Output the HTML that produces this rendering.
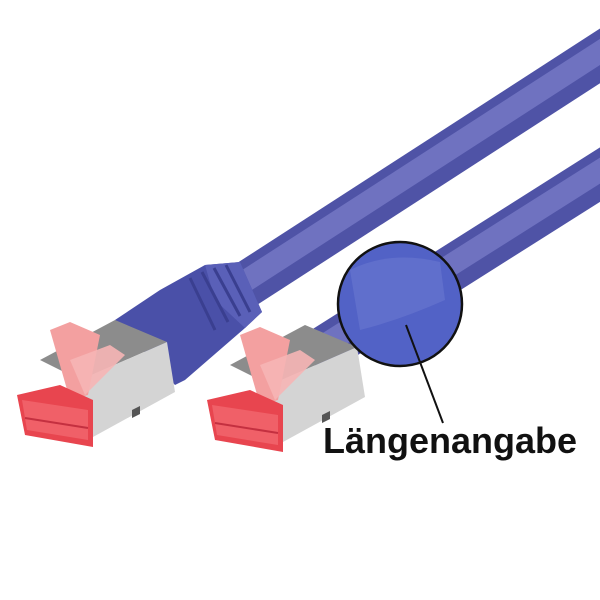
<!DOCTYPE html>
<html><head><meta charset="utf-8"><style>
html,body{margin:0;padding:0;background:#fff;}
svg{display:block}
</style></head><body>
<svg width="600" height="600" viewBox="0 0 600 600" xmlns="http://www.w3.org/2000/svg">
<defs>
<g id="conn">
  <polygon points="40,360 115,320 167,342 80,380" fill="#8c8c8c"/>
  <polygon points="80,380 167,342 175,392 93,437" fill="#d4d4d4"/>
  <polygon points="132,410 140,406 140,414 132,418" fill="#555"/>
  <polygon points="50,330 70,322 100,335 88,395 70,400" fill="#f3a0a0"/>
  <polygon points="70,360 110,345 125,355 85,395" fill="#f6b5b5" opacity="0.9"/>
  <polygon points="17,395 60,385 93,400 93,447 25,435" fill="#e8454f"/>
  <polygon points="22,400 88,410 88,440 27,430" fill="#f06068"/>
  <line x1="25" y1="418" x2="88" y2="428" stroke="#c43040" stroke-width="2"/>
</g>
</defs>
<rect width="600" height="600" fill="#fff"/>
<!-- upper cable -->
<line x1="230" y1="295" x2="620" y2="43" stroke="#4f53a6" stroke-width="46"/>
<line x1="230" y1="291" x2="620" y2="39" stroke="#6f72c0" stroke-width="22"/>
<!-- lower cable -->
<line x1="310" y1="358" x2="620" y2="162" stroke="#4f53a6" stroke-width="46"/>
<line x1="310" y1="354" x2="620" y2="158" stroke="#6f72c0" stroke-width="22"/>
<!-- boot -->
<polygon points="115,320 160,290 205,265 240,262 262,312 245,328 185,380 175,385" fill="#4a50a8"/>
<polygon points="205,265 240,262 262,312 245,328 215,300" fill="#5a60b8"/>
<g stroke="#3a3f90" stroke-width="3" fill="none">
<line x1="190" y1="278" x2="215" y2="330"/>
<line x1="202" y1="272" x2="228" y2="322"/>
<line x1="214" y1="268" x2="240" y2="316"/>
<line x1="226" y1="265" x2="250" y2="312"/>
</g>
<use href="#conn"/>
<use href="#conn" transform="translate(190,5)"/>
<circle cx="400" cy="304" r="62" fill="#5262c6" stroke="#111" stroke-width="2.5"/>
<path d="M350,270 Q390,250 440,262 L445,300 Q400,320 360,330 Z" fill="#6a78d0" opacity="0.6"/>
<line x1="406" y1="325" x2="443" y2="423" stroke="#111" stroke-width="2"/>
<text x="323" y="453" font-family="'Liberation Sans',sans-serif" font-size="36" font-weight="bold" fill="#111" textLength="254" lengthAdjust="spacingAndGlyphs">Längenangabe</text>
</svg>
</body></html>
